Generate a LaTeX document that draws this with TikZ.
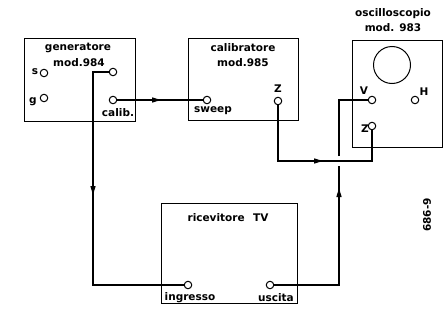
\documentclass[tikz,border=0pt]{standalone}
\usepackage{fontspec}
\setmainfont{DejaVu Sans}
\usetikzlibrary{arrows.meta,decorations.markings}
\begin{document}
\begin{tikzpicture}[x=1pt,y=-1pt,
  box/.style={draw,line width=1.2pt},
  term/.style={circle,draw,line width=1pt,minimum size=7.5pt,inner sep=0pt,fill=white},
  wire/.style={line width=1.4pt},
  lbl/.style={font=\bfseries\fontsize{10.5}{11}\selectfont,inner sep=0pt},
  tip/.style={-{Triangle[length=9pt,width=5pt]},line width=1.4pt,shorten >=0pt}
]
\useasboundingbox (0,0) rectangle (446,321);
% boxes
\node[box,minimum width=111pt,minimum height=83pt,anchor=north west] (gen) at (24,38) {};
\node[box,minimum width=110pt,minimum height=82pt,anchor=north west] (cal) at (188,38) {};
\node[box,minimum width=90pt,minimum height=107pt,anchor=north west] (osc) at (352,40) {};
\node[box,minimum width=136pt,minimum height=100pt,anchor=north west] (tv) at (161,203) {};
\node[draw,line width=1pt,circle,minimum size=37pt,inner sep=0pt] (scr) at (392,65) {};
% titles
\node[lbl] (t1) at (78,48) {generatore};
\node[lbl] (t2) at (79,63) {mod.984};
\node[lbl] (t3) at (243,48) {calibratore};
\node[lbl] (t4) at (243,63) {mod.985};
\node[lbl] (t5) at (393,14) {oscilloscopio};
\node[lbl] (t6) at (393,28) {mod. 983};
\node[lbl] (t7) at (228,218) {ricevitore\hspace{0.8em}TV};
% terminals
\node[term] (gs) at (44,73) {};
\node[term] (gg) at (44,98) {};
\node[term] (gout) at (113,72) {};
\node[term] (gcal) at (113,100) {};
\node[term] (csw) at (207,100) {};
\node[term] (cz) at (278,101) {};
\node[term] (ov) at (372,100) {};
\node[term] (oh) at (415,100) {};
\node[term] (oz) at (372,126) {};
\node[term] (ti) at (188,285) {};
\node[term] (tu) at (270,285) {};
% terminal labels
\node[lbl] (ls) at (35,72) {s};
\node[lbl] (lg) at (33,102) {g};
\node[lbl] (lcal) at (118,113) {calib.};
\node[lbl] (lsw) at (213,111) {sweep};
\node[lbl] (lcz) at (278,89) {Z};
\node[lbl] (lv) at (364,91) {V};
\node[lbl] (lh) at (424,92) {H};
\node[lbl] (loz) at (365,129) {Z};
\node[lbl] (lin) at (190,298) {ingresso};
\node[lbl] (lus) at (276,298) {uscita};
\node[lbl,rotate=90] (fig) at (427,215) {686-9};
% wire junction points
\coordinate (a1) at (93,72);
\coordinate (a2) at (93,285);
\coordinate (a3) at (93,195);
\coordinate (b1) at (161,100);
\coordinate (z1) at (278,161);
\coordinate (z2) at (372,161);
\coordinate (z3) at (323,161);
\coordinate (u1) at (339,285);
\coordinate (u2) at (339,166);
\coordinate (u3) at (339,156);
\coordinate (u4) at (339,100);
\coordinate (u5) at (339,188);
% wires
\draw[wire] (gout.west) -- (a1) -- (a2) -- (ti.west);
\draw[tip] (a1) -- (a3);
\draw[wire] (gcal.east) -- (csw.west);
\draw[tip] (gcal.east) -- (b1);
\draw[wire] (cz.south) -- (z1) -- (z2) -- (oz.south);
\draw[tip] (z1) -- (z3);
\draw[wire] (tu.east) -- (u1) -- (u2);
\draw[tip] (u1) -- (u5);
\draw[wire] (u3) -- (u4) -- (ov.west);
\end{tikzpicture}
\end{document}
